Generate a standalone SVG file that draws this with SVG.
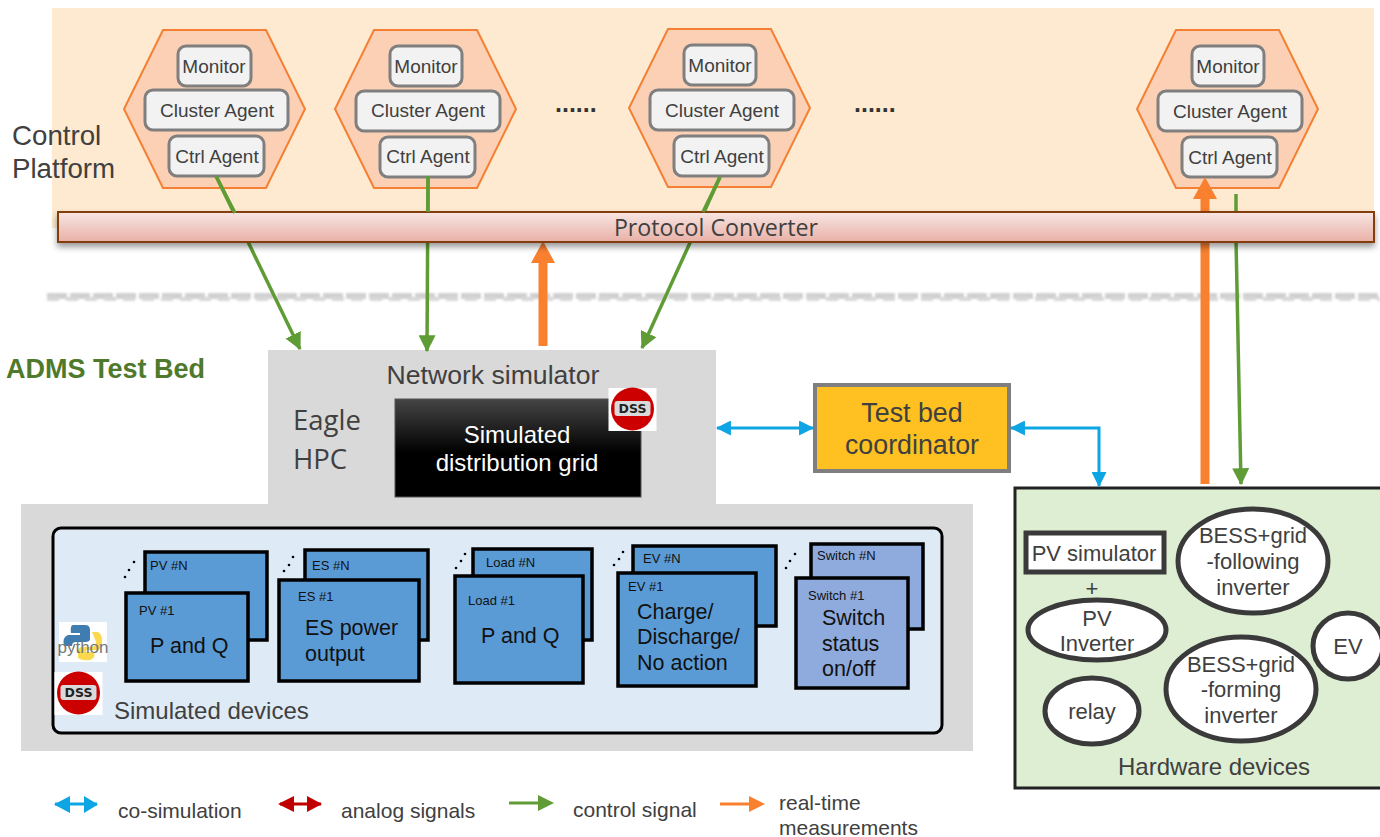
<svg xmlns="http://www.w3.org/2000/svg" width="1380" height="837" viewBox="0 0 1380 837">
<style>
text{font-family:"Liberation Sans",Arial,sans-serif;fill:#404040}
.hex{fill:#fbd0b5;stroke:#f57f32;stroke-width:2}
.ag{fill:#f2f2f2;stroke:#7f7f7f;stroke-width:3}
.ag-t{font-size:19px;fill:#404040;text-anchor:middle}
.card{fill:#5b9bd5;stroke:#000;stroke-width:3.5}
.sw{fill:#8faadc}
.lab{font-size:13px;fill:#111}
.big{font-size:21.500px;fill:#111}
.g{stroke:#5f9c35;stroke-width:3.500;fill:none}
.o{stroke:#f9802f;stroke-width:9;fill:none}
.b{stroke:#0ea5e4;stroke-width:3;fill:none}
.ell{fill:#fff;stroke:#3a3a3a;stroke-width:5}
.hw{font-size:22px;fill:#404040;text-anchor:middle}
.leg{font-size:21px}
.dots{fill:#000}
.dejavu{font-family:"Open Sans","DejaVu Sans",sans-serif}
</style>
<defs>
<linearGradient id="conv" x1="0" y1="0" x2="0" y2="1"><stop offset="0" stop-color="#f8e6e3"/><stop offset="1" stop-color="#e8b0a6"/></linearGradient>
<linearGradient id="blk" x1="0" y1="0" x2="0" y2="1"><stop offset="0" stop-color="#454545"/><stop offset="0.55" stop-color="#000"/><stop offset="1" stop-color="#000"/></linearGradient>
<filter id="blur" x="-5%" y="-200%" width="110%" height="500%"><feGaussianBlur stdDeviation="1.2"/></filter>
<filter id="shadow" x="-2%" y="-30%" width="104%" height="170%"><feDropShadow dx="0" dy="4" stdDeviation="3" flood-color="#000" flood-opacity="0.4"/></filter>
<marker id="gh" viewBox="0 0 14 14" markerUnits="userSpaceOnUse" markerWidth="17" markerHeight="17" refX="13" refY="7" orient="auto"><path d="M0 0L14 7L0 14Z" fill="#5f9c35"/></marker>
<marker id="bh" viewBox="0 0 14 14" markerUnits="userSpaceOnUse" markerWidth="15" markerHeight="15" refX="13" refY="7" orient="auto-start-reverse"><path d="M0 0L14 7L0 14Z" fill="#0ea5e4"/></marker>
<g id="hexa"><path class="hex" d="M39 0H142L181 79L142 158H39L0 79Z"/></g>
<g id="dss"><rect x="-24" y="-22" width="48" height="43" fill="#fff"/><circle r="21.500" cy="-1" fill="#cc0000"/><rect x="-18" y="-9" width="36" height="15" rx="3" fill="#d9d9d9"/><text y="3" text-anchor="middle" font-size="12.500" font-weight="bold" style="fill:#222;font-family:'DejaVu Sans',sans-serif">DSS</text></g>
</defs>

<rect id="control-bg" x="52" y="8" width="1322" height="220" fill="#fdead0"/>
<text x="12" y="145" font-size="27.700">Control</text>
<text x="12" y="178" font-size="27.700">Platform</text>

<g id="cluster1"><use href="#hexa" x="124" y="30"/><rect class="ag" x="178" y="46" width="73" height="40" rx="8"/><text class="ag-t" x="214" y="73">Monitor</text><rect class="ag" x="145" y="90" width="143" height="40" rx="8"/><text class="ag-t" x="217" y="117">Cluster Agent</text><rect class="ag" x="169" y="136" width="95" height="40" rx="8"/><text class="ag-t" x="217" y="163">Ctrl Agent</text></g>
<g id="cluster2"><use href="#hexa" x="335" y="30"/><rect class="ag" x="390" y="46" width="72" height="40" rx="8"/><text class="ag-t" x="426" y="73">Monitor</text><rect class="ag" x="356" y="91" width="144" height="40" rx="8"/><text class="ag-t" x="428" y="117">Cluster Agent</text><rect class="ag" x="380" y="137" width="95" height="40" rx="8"/><text class="ag-t" x="428" y="163">Ctrl Agent</text></g>
<g id="cluster3"><use href="#hexa" x="629" y="29"/><rect class="ag" x="684" y="45" width="72" height="40" rx="8"/><text class="ag-t" x="720" y="72">Monitor</text><rect class="ag" x="650" y="90" width="144" height="40" rx="8"/><text class="ag-t" x="722" y="117">Cluster Agent</text><rect class="ag" x="674" y="136" width="95" height="40" rx="8"/><text class="ag-t" x="722" y="163">Ctrl Agent</text></g>
<g id="cluster4"><use href="#hexa" x="1137" y="30"/><rect class="ag" x="1192" y="46" width="72" height="40" rx="8"/><text class="ag-t" x="1228" y="73">Monitor</text><rect class="ag" x="1158" y="91" width="144" height="40" rx="8"/><text class="ag-t" x="1230" y="118">Cluster Agent</text><rect class="ag" x="1182" y="137" width="95" height="40" rx="8"/><text class="ag-t" x="1230" y="164">Ctrl Agent</text></g>
<text x="555" y="112" font-size="25" font-weight="bold" style="fill:#333">......</text>
<text x="854" y="112" font-size="25" font-weight="bold" style="fill:#333">......</text>

<g id="divider" filter="url(#blur)"><path d="M47 296H1380" stroke="#d0d0d0" stroke-width="6" stroke-dasharray="20 3" fill="none"/><path d="M47 299H1380" stroke="#d8d8d8" stroke-width="4" stroke-dasharray="12 7" fill="none"/></g>
<text x="6" y="378" font-size="27" font-weight="bold" style="fill:#4f7a2c">ADMS Test Bed</text>

<g id="eagle-bg"><rect x="268" y="350" width="448" height="155" fill="#d9d9d9"/><rect x="21" y="504" width="952" height="247" fill="#d9d9d9"/></g>
<g id="network-simulator">
<text x="493" y="384" font-size="26.600" text-anchor="middle">Network simulator</text>
<text x="293" y="430" font-size="27.500" class="dejavu">Eagle</text>
<text x="293" y="469" font-size="27.500" class="dejavu">HPC</text>
<rect x="395" y="399" width="246" height="98" fill="url(#blk)" stroke="#555" stroke-width="1"/>
<text x="517" y="443" font-size="24" text-anchor="middle" style="fill:#fff">Simulated</text>
<text x="517" y="471" font-size="24" text-anchor="middle" style="fill:#fff">distribution grid</text>
<use href="#dss" x="632.500" y="410"/>
</g>

<g id="simulated-devices">
<rect x="53" y="528" width="889" height="205" rx="8" fill="#deeaf6" stroke="#000" stroke-width="3"/>
<text x="114" y="719" font-size="24">Simulated devices</text>
<g id="python-logo"><rect x="59" y="622" width="48" height="40" fill="#fff"/><path d="M73 625h12q5 0 5 5v9q0 3-5 3H76q-4 0-4 4H64q-2-9 4-11h12v-2h-9q-1-8 2-8Z" fill="#3f7cb0"/><path d="M92 632h6q5 3 4 11t-6 7H86v2h8q2 6-4 8q-8 1-12-2v-8q1-3 5-3h9q4-1 4-5Z" fill="#fbd94f"/><text x="83" y="653" font-size="17" text-anchor="middle" style="fill:#777">python</text></g>
<use href="#dss" x="78.500" y="694"/>
</g>
<g id="pv"><rect class="card" x="145" y="552" width="122" height="88"/><text class="lab" x="150" y="570">PV #N</text><rect class="card" x="126" y="593" width="122" height="88"/><text class="lab" x="139" y="615">PV #1</text><text class="big" x="150" y="653">P and Q</text><g class="dots"><circle cx="134" cy="562" r="1.300"/><circle cx="129" cy="570" r="1.300"/><circle cx="125" cy="577" r="1.300"/></g></g>
<g id="es"><rect class="card" x="305" y="550" width="123" height="90"/><text class="lab" x="312" y="570">ES #N</text><rect class="card" x="279" y="580" width="140" height="101"/><text class="lab" x="298" y="601">ES #1</text><text class="big" x="305" y="635">ES power</text><text class="big" x="305" y="661">output</text><g class="dots"><circle cx="293" cy="557" r="1.300"/><circle cx="289" cy="565" r="1.300"/><circle cx="284" cy="571" r="1.300"/></g></g>
<g id="load"><rect class="card" x="473" y="549" width="119" height="91"/><text class="lab" x="486" y="567">Load #N</text><rect class="card" x="455" y="576" width="128" height="107"/><text class="lab" x="468" y="605">Load #1</text><text class="big" x="481" y="643">P and Q</text><g class="dots"><circle cx="465" cy="554" r="1.300"/><circle cx="461" cy="561" r="1.300"/><circle cx="456" cy="568" r="1.300"/></g></g>
<g id="ev"><rect class="card" x="633" y="546" width="143" height="80"/><text class="lab" x="643" y="563">EV #N</text><rect class="card" x="618" y="573" width="138" height="113"/><text class="lab" x="628" y="591">EV #1</text><text class="big" x="637" y="619">Charge/</text><text class="big" x="637" y="644">Discharge/</text><text class="big" x="637" y="670">No action</text><g class="dots"><circle cx="623" cy="552" r="1.300"/><circle cx="619" cy="559" r="1.300"/><circle cx="614" cy="565" r="1.300"/></g></g>
<g id="switch"><rect class="card sw" x="811" y="544" width="112" height="85"/><text class="lab" x="817" y="560">Switch #N</text><rect class="card sw" x="796" y="578" width="112" height="110"/><text class="lab" x="808" y="600">Switch #1</text><text class="big" x="822" y="625">Switch</text><text class="big" x="822" y="651">status</text><text class="big" x="822" y="676">on/off</text><g class="dots"><circle cx="795" cy="554" r="1.300"/><circle cx="790" cy="561" r="1.300"/><circle cx="786" cy="568" r="1.300"/></g></g>

<g id="coordinator"><rect x="815" y="385" width="194" height="86" fill="#ffc021" stroke="#7f7f7f" stroke-width="4"/><text x="912" y="422" font-size="26.800" text-anchor="middle">Test bed</text><text x="912" y="454" font-size="26.800" text-anchor="middle">coordinator</text></g>

<g id="hardware">
<rect x="1015" y="488" width="370" height="300" fill="#deeed3" stroke="#222" stroke-width="3"/>
<rect x="1026" y="533" width="138" height="39" fill="#fff" stroke="#3a3a3a" stroke-width="5"/><text class="hw" x="1094" y="561">PV simulator</text>
<text class="hw" x="1092" y="596">+</text>
<ellipse class="ell" cx="1097" cy="630" rx="69" ry="30"/><text class="hw" x="1097" y="626" >PV</text><text class="hw" x="1097" y="651">Inverter</text>
<ellipse class="ell" cx="1253" cy="561" rx="75" ry="52"/><text class="hw" x="1253" y="543">BESS+grid</text><text class="hw" x="1253" y="569">-following</text><text class="hw" x="1253" y="595">inverter</text>
<ellipse class="ell" cx="1241" cy="689" rx="75" ry="52"/><text class="hw" x="1241" y="672">BESS+grid</text><text class="hw" x="1241" y="697">-forming</text><text class="hw" x="1241" y="723">inverter</text>
<ellipse class="ell" cx="1348" cy="646" rx="35" ry="33"/><text class="hw" x="1348" y="654">EV</text>
<ellipse class="ell" cx="1092" cy="711" rx="47" ry="33"/><text class="hw" x="1092" y="719">relay</text>
<text class="hw" x="1214" y="775" style="font-size:24px">Hardware devices</text>
</g>

<g id="connectors">
<path class="g" d="M216 176L300 349" marker-end="url(#gh)"/>
<path class="g" d="M428 176L427 351" marker-end="url(#gh)"/>
<path class="g" d="M720 177L642 348" marker-end="url(#gh)"/>
<path class="o" d="M543 346V258"/><path d="M531 263L543 241L555 263Z" fill="#f9802f"/>
<path class="o" d="M1205 484V190"/><path d="M1193 199L1205 177L1217 199Z" fill="#f9802f"/>
<path class="g" d="M1236 194V240L1241 484" marker-end="url(#gh)"/>
<path class="b" d="M717 428H813" marker-start="url(#bh)" marker-end="url(#bh)"/>
<path class="b" d="M1011 428H1099V486" marker-start="url(#bh)" marker-end="url(#bh)"/>
</g>

<g id="protocol-converter"><rect x="58" y="212" width="1316" height="30" fill="url(#conv)" stroke="#843c0c" stroke-width="2" filter="url(#shadow)"/><text x="716" y="236" font-size="23.200" text-anchor="middle" class="dejavu">Protocol Converter</text></g>
<g id="connector-over"><path class="g" d="M216 176L235 213"/><path class="g" d="M428 176V212"/><path class="g" d="M720 177L703 212"/></g>

<g id="legend">
<path d="M55 804H97" stroke="#0ea5e4" stroke-width="3"/><path d="M70 796L54 804.500L70 813Z M84 796L98 804.500L84 813Z" fill="#0ea5e4"/>
<text class="leg" x="118" y="818">co-simulation</text>
<path d="M280 804H321" stroke="#c00000" stroke-width="3"/><path d="M294 796L278 804L294 812Z M307 796L322 804L307 812Z" fill="#c00000"/>
<text class="leg" x="341" y="818">analog signals</text>
<path d="M509 803H540" stroke="#5f9c35" stroke-width="3"/><path d="M538 795L554 803L538 811Z" fill="#5f9c35"/>
<text class="leg" x="573" y="817">control signal</text>
<path d="M720 804H752" stroke="#f9802f" stroke-width="3"/><path d="M749 796L765 804L749 812Z" fill="#f9802f"/>
<text class="leg" x="779" y="810">real-time</text>
<text class="leg" x="779" y="835">measurements</text>
</g>
</svg>
